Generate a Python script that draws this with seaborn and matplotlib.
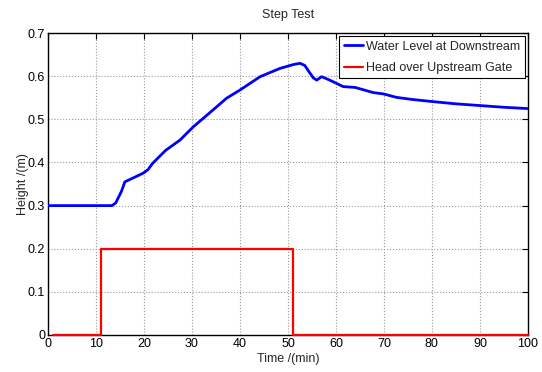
import pandas as pd
import matplotlib
matplotlib.use('Agg')
import matplotlib.pyplot as plt
import seaborn as sns

# Water level at downstream
level_time = [0, 5, 10, 13.3, 14.1, 15.3, 16.0, 17.7, 19.8, 20.8, 21.8, 23.5, 24.5, 27.5,
              30.3, 34.4, 37.2, 40, 44.2, 48.3, 51.1, 52.5, 53.5, 54.6, 55.3, 56, 57,
              58.7, 61.5, 64, 67.8, 69.9, 72.6, 76, 80.3, 85, 90, 95, 100]
level_value = [0.3, 0.3, 0.3, 0.3, 0.306, 0.333, 0.355, 0.364, 0.375, 0.383, 0.398, 0.417,
               0.428, 0.452, 0.483, 0.522, 0.549, 0.568, 0.599, 0.618, 0.627, 0.630, 0.625,
               0.607, 0.596, 0.591, 0.599, 0.591, 0.576, 0.574, 0.562, 0.559, 0.551, 0.546,
               0.541, 0.536, 0.532, 0.528, 0.525]

# Head over upstream gate (step input)
gate_time = [1, 11, 51, 100]
gate_value = [0, 0.2, 0, 0]

sns.set_theme(style="white")
plt.rcParams['font.family'] = ['Liberation Sans', 'DejaVu Sans']

fig = plt.figure(figsize=(5.42, 3.72), dpi=100)
ax = fig.add_axes([0.0886, 0.0995, 0.974 - 0.0886, 0.911 - 0.0995])

df_level = pd.DataFrame({'t': level_time, 'h': level_value})
df_gate = pd.DataFrame({'t': gate_time, 'h': gate_value})

sns.lineplot(data=df_level, x='t', y='h', ax=ax, color='#0000ff', linewidth=2,
             label='Water Level at Downstream', zorder=5)
sns.lineplot(data=df_gate, x='t', y='h', ax=ax, color='#ff0000', linewidth=1.6,
             drawstyle='steps-post', label='Head over Upstream Gate', zorder=6, clip_on=False)

ax.set_xlim(0, 100)
ax.set_ylim(0, 0.7)
ax.set_xticks(range(0, 101, 10))
ax.set_yticks([0, 0.1, 0.2, 0.3, 0.4, 0.5, 0.6, 0.7])
ax.set_yticklabels(['0', '0.1', '0.2', '0.3', '0.4', '0.5', '0.6', '0.7'])
ax.grid(True, linestyle=':', color='#999999', linewidth=0.8)
ax.tick_params(direction='in', length=4, width=0.8, top=True, right=True,
               labelsize=9, colors='black', pad=2)
for s in ax.spines.values():
    s.set_color('black')
    s.set_linewidth(1.0)

ax.set_title('Step Test', fontsize=9, pad=11)
ax.set_xlabel('Time /(min)', fontsize=9, labelpad=2)
ax.set_ylabel('Height /(m)', fontsize=9, labelpad=-1)

leg = ax.legend(loc='upper right', fontsize=9, frameon=True, fancybox=False,
                borderaxespad=0.25, handlelength=1.5, borderpad=0.35, labelspacing=0.75,
                handletextpad=0.3)
leg.get_frame().set_edgecolor('black')
leg.get_frame().set_linewidth(0.8)
leg.get_frame().set_alpha(1)

fig.savefig('out.png', dpi=100)
